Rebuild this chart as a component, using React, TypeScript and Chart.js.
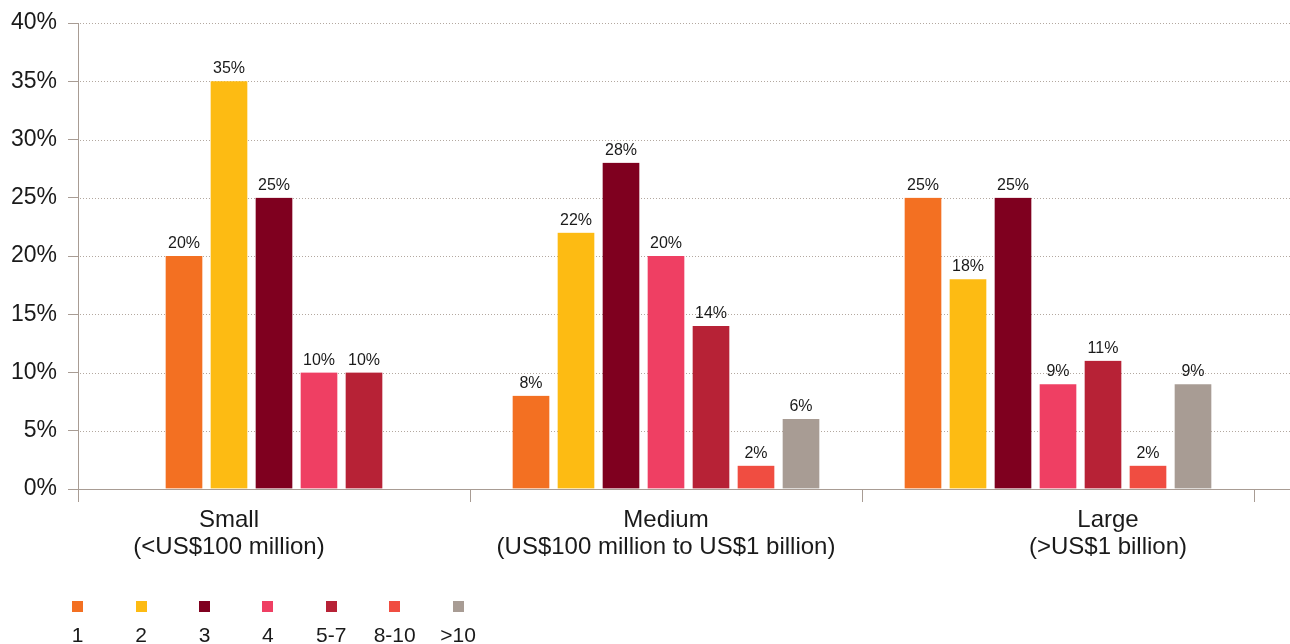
import React, { useEffect, useRef } from 'react';
import { Chart, registerables } from 'chart.js';

Chart.register(...registerables);

// Company size groups (two-line axis labels)
const CATEGORIES: string[][] = [
  ['Small', '(<US$100 million)'],
  ['Medium', '(US$100 million to US$1 billion)'],
  ['Large', '(>US$1 billion)'],
];

// Series names, in legend order
const SERIES_LABELS = ['1', '2', '3', '4', '5-7', '8-10', '>10'];

// Percentage of respondents per group (Small, Medium, Large)
const SERIES_1 = [20, 8, 25];
const SERIES_2 = [35, 22, 18];
const SERIES_3 = [25, 28, 25];
const SERIES_4 = [10, 20, 9];
const SERIES_5_7 = [10, 14, 11];
const SERIES_8_10 = [null, 2, 2];
const SERIES_OVER_10 = [null, 6, 9];

const SERIES_VALUES: (number | null)[][] = [
  SERIES_1,
  SERIES_2,
  SERIES_3,
  SERIES_4,
  SERIES_5_7,
  SERIES_8_10,
  SERIES_OVER_10,
];

const SERIES_COLORS = ['#f37022', '#fdbb13', '#7f001f', '#ef3f63', '#b72236', '#f04d41', '#a89c94'];

const Y_MIN = 0;
const Y_MAX = 40;
const Y_STEP = 5;

const FONT = "'Liberation Sans', Arial, Helvetica, sans-serif";
const TEXT_COLOR = '#1a1a1a';
const AXIS_COLOR = '#a89c94';
const GRID_COLOR = '#b3a89f';

// Horizontal nudge of each group's caption relative to the category centre
const LABEL_NUDGE = [-45, 0, 50];

const WIDTH = 1290;
const HEIGHT = 644;

// Dotted value gridlines that run past the plot area to the canvas edge,
// plus the extended zero baseline.
const extendedGrid = {
  id: 'extendedGrid',
  beforeDatasetsDraw(chart: any) {
    const { ctx, chartArea, scales } = chart;
    const y = scales.y;
    ctx.save();
    ctx.lineWidth = 1;
    ctx.strokeStyle = GRID_COLOR;
    ctx.setLineDash([1, 2]);
    y.ticks.forEach((t: any) => {
      if (t.value === Y_MIN) return;
      const py = Math.round(y.getPixelForValue(t.value)) + 0.5;
      ctx.beginPath();
      ctx.moveTo(chartArea.left + 2, py);
      ctx.lineTo(chart.width, py);
      ctx.stroke();
    });
    ctx.setLineDash([]);
    ctx.strokeStyle = AXIS_COLOR;
    const p0 = Math.round(y.getPixelForValue(Y_MIN)) + 0.5;
    ctx.beginPath();
    ctx.moveTo(chartArea.left, p0);
    ctx.lineTo(chart.width, p0);
    ctx.stroke();
    ctx.restore();
  },
};

// Percentage labels above each bar
const valueLabels = {
  id: 'valueLabels',
  afterDatasetsDraw(chart: any) {
    const { ctx } = chart;
    ctx.save();
    ctx.font = `16px ${FONT}`;
    ctx.fillStyle = TEXT_COLOR;
    ctx.textAlign = 'center';
    ctx.textBaseline = 'alphabetic';
    chart.data.datasets.forEach((ds: any, di: number) => {
      const meta = chart.getDatasetMeta(di);
      meta.data.forEach((bar: any, i: number) => {
        const v = ds.data[i];
        if (v === null || v === undefined) return;
        ctx.fillText(`${v}%`, bar.x, bar.y - 8);
      });
    });
    ctx.restore();
  },
};

// Two-line group captions under the category axis
const categoryLabels = {
  id: 'categoryLabels',
  afterDraw(chart: any) {
    const { ctx, scales } = chart;
    const x = scales.x;
    ctx.save();
    ctx.font = `24px ${FONT}`;
    ctx.fillStyle = TEXT_COLOR;
    ctx.textAlign = 'center';
    ctx.textBaseline = 'alphabetic';
    CATEGORIES.forEach((lines, i) => {
      const cx = x.getPixelForValue(i) + LABEL_NUDGE[i];
      lines.forEach((line, j) => {
        ctx.fillText(line, cx, x.top + 38 + j * 27);
      });
    });
    ctx.restore();
  },
};

export default function App() {
  const canvasRef = useRef<HTMLCanvasElement | null>(null);

  useEffect(() => {
    const canvas = canvasRef.current;
    if (!canvas) return;

    const chart = new Chart(canvas, {
      type: 'bar',
      data: {
        labels: CATEGORIES.map((c) => c.join(' ')),
        datasets: SERIES_LABELS.map((label, i) => ({
          label,
          data: SERIES_VALUES[i],
          backgroundColor: SERIES_COLORS[i],
          // transparent side borders leave the gap between adjacent bars
          borderColor: 'rgba(0,0,0,0)',
          borderWidth: { left: 4.5, right: 4.5, top: 0, bottom: 0 },
          borderSkipped: false,
          barThickness: 45,
        })),
      },
      options: {
        responsive: false,
        animation: false,
        devicePixelRatio: 1,
        skipNull: true,
        layout: { padding: { top: 23, right: 36, left: 0, bottom: 0 } },
        plugins: {
          legend: { display: false },
          tooltip: { enabled: false },
          title: { display: false },
        },
        scales: {
          x: {
            type: 'category',
            grid: {
              offset: true,
              drawOnChartArea: false,
              drawTicks: true,
              tickLength: 13,
              tickColor: AXIS_COLOR,
              color: AXIS_COLOR,
            },
            border: { display: true, color: AXIS_COLOR, width: 1 },
            ticks: { display: false },
            afterFit: (scale: any) => {
              scale.height = 155;
            },
          },
          y: {
            min: Y_MIN,
            max: Y_MAX,
            grid: {
              drawOnChartArea: false,
              drawTicks: true,
              tickLength: 10,
              tickColor: AXIS_COLOR,
              color: AXIS_COLOR,
            },
            border: { display: true, color: AXIS_COLOR, width: 1 },
            ticks: {
              stepSize: Y_STEP,
              padding: 11,
              color: TEXT_COLOR,
              font: { family: FONT, size: 23, lineHeight: 1 },
              callback: (v: any) => `${v}%`,
            },
            afterFit: (scale: any) => {
              scale.width = 78;
            },
          },
        },
      } as any,
      plugins: [extendedGrid, valueLabels, categoryLabels],
    });

    return () => {
      chart.destroy();
    };
  }, []);

  return (
    <div
      style={{
        position: 'fixed',
        left: 0,
        top: 0,
        width: WIDTH,
        height: HEIGHT,
        background: '#ffffff',
        overflow: 'hidden',
        fontFamily: FONT,
      }}
    >
      <canvas ref={canvasRef} width={WIDTH} height={HEIGHT} style={{ display: 'block' }} />
      <div
        style={{
          position: 'absolute',
          left: 46,
          top: 601,
          display: 'flex',
        }}
      >
        {SERIES_LABELS.map((label, i) => (
          <div
            key={label}
            style={{
              width: 63.4,
              display: 'flex',
              flexDirection: 'column',
              alignItems: 'center',
            }}
          >
            <div style={{ width: 11, height: 11, background: SERIES_COLORS[i] }} />
            <div
              style={{
                marginTop: 11,
                fontSize: 21,
                lineHeight: '24px',
                color: TEXT_COLOR,
                whiteSpace: 'nowrap',
              }}
            >
              {label}
            </div>
          </div>
        ))}
      </div>
    </div>
  );
}
